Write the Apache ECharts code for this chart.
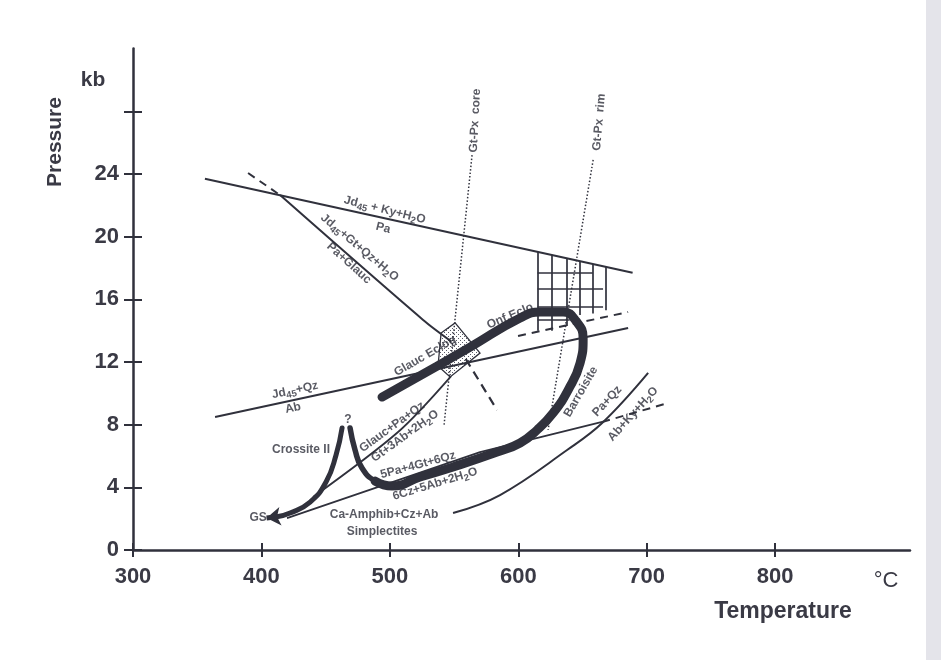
<!DOCTYPE html>
<html><head><meta charset="utf-8">
<script src="https://cdn.jsdelivr.net/npm/echarts@6/dist/echarts.min.js"></script>
<style>html,body{margin:0;padding:0;background:#fff}#c{width:941px;height:660px}</style>
</head><body><div id="c"></div>
<script>
// ---------- axes ----------
const xTicks = [300, 400, 500, 600, 700, 800];
const yTickLabels = [0, 4, 8, 12, 16, 20, 24];
const yTicks = [0, 4, 8, 12, 16, 20, 24, 28];

// ---------- reaction curves [T °C, P kb] ----------
const jdKyLine = [[356, 23.7], [689, 17.7]];
const jdGtDashTop = [[389.6, 24.06], [414.5, 22.65]];
const jdGtLine = [[414.5, 22.65], [525.9, 14.68], [548, 13.3]];
const jdGtDashBottom = [[559, 12.2], [583.5, 8.93]];
const jdQzLine = [[363.9, 8.49], [685.5, 14.17]];
const upperDash = [[599.8, 13.66], [685.5, 15.19]];
const gtPxCore = [[564, 25.2], [542.2, 7.98]];
const gtPxRim = [[658.3, 24.9], [623.2, 7.66]];
const glaucPaLine = [[440.2, 3.38], [506.4, 7.53], [547.7, 11.1]];
const fivePaLine = [[419.9, 2.04], [570.2, 6.25], [665.3, 8.17]];
const fivePaDash = [[665.3, 8.17], [716.7, 9.38]];
const paQzLine = [[549.2, 2.36], [585.8, 3.51], [638, 6.38], [665.3, 8.1], [701.1, 11.3]];

// ---------- hatched field ----------
const hatchVT = [615, 626, 638, 648, 658, 668];
const hatchVTop = [19.03, 18.84, 18.62, 18.44, 18.26, 18.08];
const hatchVBottom = [14.0, 14.0, 14.3, 15.0, 15.1, 15.3];
const hatchHP = [17.7, 16.7, 15.5, 14.7];
const hatchHFrom = [615, 615, 615, 615];
const hatchHTo = [658, 666, 666, 640];

// ---------- stippled field ----------
const stippleBox = [[539.9, 13.85], [550.8, 14.49], [570.2, 12.57], [546.9, 11.04], [537.5, 11.74]];

// ---------- P-T path ----------
const pathLoop = [[493.9, 9.76], [536.8, 11.74], [562.5, 12.95], [601.4, 14.81], [617, 15.19], [634.9, 15.19],
  [645, 14.61], [650.5, 13.5], [648.1, 11.93], [638.8, 10.21], [627.1, 8.74], [614.6, 7.66], [601.4, 6.83],
  [583.5, 6.25], [549.2, 5.3], [523.5, 4.66], [501.7, 4.08], [488.5, 4.4]];
const pathCusp = [[501.7, 4.08], [488.5, 4.4], [478.3, 5.23], [472.9, 6.38], [469, 7.79]];
const pathRetro = [[462.8, 7.79], [458.1, 6.06], [450.3, 4.34], [437.9, 3.06], [422.3, 2.36], [412, 2.12]];
const arrowTip = [404, 2.04];

// ---------- annotations: text, T, P, rotation ----------
const notes = [
  ['{t|Jd}{s|45}{t| + Ky+H}{s|2}{t|O}', 496, 21.7, -14],
  ['{t|Pa}', 494.7, 20.55, -14],
  ['{t|Jd}{s|45}{t|+Gt+Qz+H}{s|2}{t|O}', 476.4, 19.3, -40],
  ['{t|Pa+Glauc}', 468.2, 18.3, -42],
  ['{t|Gt-Px  core}', 566.4, 27.4, 87],
  ['{t|Gt-Px  rim}', 663, 27.3, 85],
  ['{t|Onf.Eclo}', 593.6, 14.93, 23],
  ['{t|Glauc Eclog}', 527.4, 12.38, 30],
  ['{t|Barroisite}', 648.8, 10.1, 60],
  ['{t|Pa+Qz}', 669.2, 9.5, 47],
  ['{t|Ab+Ky+H}{s|2}{t|O}', 689.4, 8.68, 48],
  ['{t|Jd}{s|45}{t|+Qz}', 426.2, 10.2, 12],
  ['{t|Ab}', 424.6, 9.06, 12],
  ['{b|Crossite II}', 430.8, 6.38, 0],
  ['{b|?}', 467.4, 8.3, 0],
  ['{t|Glauc+Pa+Qz}', 501.7, 7.85, 36],
  ['{t|Gt+3Ab+2H}{s|2}{t|O}', 511.8, 7.27, 36],
  ['{t|5Pa+4Gt+6Qz}', 522, 5.42, 15],
  ['{t|6Cz+5Ab+2H}{s|2}{t|O}', 535.2, 4.21, 17],
  ['{b|GS}', 397.4, 2.04, 0],
  ['{b|Ca-Amphib+Cz+Ab}', 495.5, 2.23, 0],
  ['{b|Simplectites}', 493.9, 1.15, 0]
];

const INK = '#30313c';
const FONT = "'Liberation Sans', Arial, Helvetica, sans-serif";

const chart = echarts.init(document.getElementById('c'), null, { renderer: 'canvas' });

function ln(data, extra) {
  return Object.assign({
    type: 'line', data: data, showSymbol: false, symbol: 'none', silent: true, smooth: false,
    lineStyle: { color: INK, width: 2 }, z: 3
  }, extra || {});
}

// stipple pattern
const pc = document.createElement('canvas');
pc.width = 4; pc.height = 4;
const g = pc.getContext('2d');
g.fillStyle = '#ffffff'; g.fillRect(0, 0, 4, 4);
g.fillStyle = '#5a5a66'; g.fillRect(0, 0, 1, 1); g.fillRect(2, 2, 1, 1);

const hatchSegs = [];
hatchVT.forEach((t, i) => hatchSegs.push({ coords: [[t, hatchVTop[i]], [t, hatchVBottom[i]]] }));
hatchHP.forEach((p, i) => hatchSegs.push({ coords: [[hatchHFrom[i], p], [hatchHTo[i], p]] }));

const tickStyle = { color: INK, width: 2 };

const option = {
  animation: false,
  backgroundColor: '#ffffff',
  grid: { left: 133, top: 48.6, right: 31, bottom: 110 },
  xAxis: [{
    type: 'value', min: 300, max: 905, interval: 100,
    axisLine: { show: true, lineStyle: { color: INK, width: 2.5 } },
    axisTick: { show: true, length: 7, customValues: xTicks, lineStyle: tickStyle },
    axisLabel: { customValues: xTicks, margin: 16, color: '#3a3a45', fontSize: 22, fontWeight: 'bold', fontFamily: FONT },
    splitLine: { show: false }
  }, {
    type: 'value', min: 300, max: 905, position: 'bottom',
    axisLine: { show: false },
    axisTick: { show: true, inside: true, length: 7, customValues: xTicks, lineStyle: tickStyle },
    axisLabel: { show: false }, splitLine: { show: false }
  }],
  yAxis: [{
    type: 'value', min: 0, max: 32, interval: 4,
    axisLine: { show: true, lineStyle: { color: INK, width: 2.5 } },
    axisTick: { show: true, length: 9, customValues: yTicks, lineStyle: tickStyle },
    axisLabel: { customValues: yTickLabels, margin: 14, color: '#3a3a45', fontSize: 22, fontWeight: 'bold', fontFamily: FONT },
    splitLine: { show: false }
  }, {
    type: 'value', min: 0, max: 32, position: 'left',
    axisLine: { show: false },
    axisTick: { show: true, inside: true, length: 9, customValues: yTicks, lineStyle: tickStyle },
    axisLabel: { show: false }, splitLine: { show: false }
  }],
  graphic: [
    { type: 'rect', shape: { x: 926, y: 0, width: 15, height: 660 }, style: { fill: '#e4e4ea' }, z: -1 },
    { type: 'text', x: 55, y: 142, rotation: Math.PI / 2, style: { text: 'Pressure', fill: '#3a3a45', font: "bold 21px " + FONT, align: 'center', verticalAlign: 'middle' } },
    { type: 'text', x: 93, y: 80, style: { text: 'kb', fill: '#3a3a45', font: "bold 21px " + FONT, align: 'center', verticalAlign: 'middle' } },
    { type: 'text', x: 886, y: 581, style: { text: '°C', fill: '#3a3a45', font: "22px " + FONT, align: 'center', verticalAlign: 'middle' } },
    { type: 'text', x: 783, y: 612, style: { text: 'Temperature', fill: '#3a3a45', font: "bold 23px " + FONT, align: 'center', verticalAlign: 'middle' } }
  ],
  series: [
    {
      type: 'custom', silent: true, z: 1,
      data: [stippleBox[0]],
      renderItem: function (params, api) {
        const pts = stippleBox.map(p => api.coord(p));
        return { type: 'polygon', shape: { points: pts }, style: { fill: { image: pc, repeat: 'repeat' }, stroke: INK, lineWidth: 1.3 } };
      }
    },
    {
      type: 'lines', coordinateSystem: 'cartesian2d', silent: true, z: 2, data: hatchSegs,
      lineStyle: { color: INK, width: 1.7, opacity: 1, curveness: 0 }
    },
    ln(jdKyLine),
    ln(jdGtDashTop, { lineStyle: { color: INK, width: 2, type: [8, 6] } }),
    ln(jdGtLine, { smooth: 0.3 }),
    ln(jdGtDashBottom, { lineStyle: { color: INK, width: 2.2, type: [9, 6] } }),
    ln(jdQzLine),
    ln(upperDash, { lineStyle: { color: INK, width: 2, type: [8, 6] } }),
    ln(gtPxCore, { lineStyle: { color: INK, width: 1.5, type: [1.5, 2] } }),
    ln(gtPxRim, { lineStyle: { color: INK, width: 1.5, type: [1.5, 2] } }),
    ln(glaucPaLine, { smooth: 0.3, lineStyle: { color: INK, width: 1.8 } }),
    ln(fivePaLine, { lineStyle: { color: INK, width: 1.8 } }),
    ln(fivePaDash, { lineStyle: { color: INK, width: 2, type: [8, 6] } }),
    ln(paQzLine, { smooth: 0.4, lineStyle: { color: INK, width: 2 } }),
    ln(pathLoop, { smooth: 0.5, z: 5, lineStyle: { color: INK, width: 9, cap: 'round', join: 'round' } }),
    ln(pathCusp, { smooth: 0.5, z: 5, lineStyle: { color: INK, width: 5.5, cap: 'round', join: 'round' } }),
    ln(pathRetro, { smooth: 0.5, z: 5, lineStyle: { color: INK, width: 5, cap: 'round', join: 'round' } }),
    {
      type: 'lines', coordinateSystem: 'cartesian2d', silent: true, z: 5,
      symbol: ['none', 'arrow'], symbolSize: 14,
      data: [{ coords: [pathRetro[pathRetro.length - 1], arrowTip] }],
      lineStyle: { color: INK, width: 5, opacity: 1 }
    },
    {
      type: 'scatter', silent: true, z: 8, symbolSize: 0,
      data: notes.map(n => ({ value: [n[1], n[2]], label: { rotate: n[3], formatter: n[0] } })),
      label: {
        show: true, position: 'inside', color: INK, fontFamily: FONT, fontWeight: 'bold', fontSize: 12,
        rich: {
          t: { fontSize: 12, fontWeight: 'bold', fontFamily: FONT, color: INK, lineHeight: 15 },
          s: { fontSize: 9.5, fontWeight: 'bold', fontFamily: FONT, color: INK, lineHeight: 15, padding: [7, 0, 0, 0] },
          b: { fontSize: 12, fontWeight: 'bold', fontFamily: FONT, color: INK, lineHeight: 15 }
        }
      }
    }
  ]
};
chart.setOption(option);
</script>
</body></html>
